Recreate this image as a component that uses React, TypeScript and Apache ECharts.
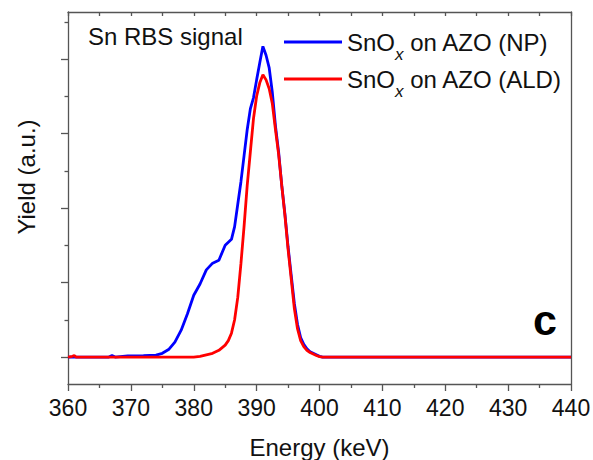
import React, { useEffect, useRef } from "react";
import * as echarts from "echarts";

// Energy axis ticks
const xMin = 360;
const xMax = 440;
const xTickStep = 10;

// Yield axis (arbitrary units; major ticks at integers)
const yMin = -0.362;
const yMax = 4.631;
const yMajorTicks = [0, 1, 2, 3, 4];
const yMinorTicks = [0.5, 1.5, 2.5, 3.5, 4.5];

// SnOx on AZO (NP) — blue
const energyNP = [
  360, 366.5, 367, 367.5, 369.5, 372, 374, 375, 376, 377, 378, 379, 380, 381, 382, 383, 384,
  385, 386, 386.5, 387, 387.5, 388, 388.5, 389, 389.5, 390, 390.5, 391, 391.5, 392, 392.5,
  393, 393.5, 394, 394.5, 395, 395.5, 396, 396.5, 397, 397.5, 398, 398.5, 399, 399.5, 400,
  400.5, 440,
];
const yieldNP = [
  0, 0, 0.02, 0, 0.015, 0.02, 0.025, 0.05, 0.1, 0.2, 0.36, 0.58, 0.83, 0.98, 1.17, 1.26, 1.3,
  1.5, 1.58, 1.75, 2.05, 2.35, 2.7, 3.05, 3.33, 3.48, 3.72, 3.95, 4.17, 4.05, 3.88, 3.55,
  3.1, 2.75, 2.3, 1.92, 1.48, 1.1, 0.72, 0.44, 0.26, 0.17, 0.11, 0.07, 0.05, 0.03, 0.01,
  0, 0,
];

// SnOx on AZO (ALD) — red
const energyALD = [
  360, 360.7, 361, 361.3, 380, 381, 382, 383, 384, 385, 385.5, 386, 386.5, 387, 387.5, 388,
  388.5, 389, 389.5, 390, 390.5, 391, 391.5, 392, 392.5, 393, 393.5, 394, 394.5, 395, 395.5,
  396, 396.5, 397, 397.5, 398, 398.5, 399, 399.5, 400, 400.5, 440,
];
const yieldALD = [
  0, 0.01, 0.02, 0, 0, 0.01, 0.03, 0.05, 0.09, 0.16, 0.22, 0.32, 0.5, 0.8, 1.25, 1.75,
  2.3, 2.75, 3.2, 3.5, 3.68, 3.79, 3.72, 3.6, 3.4, 3.05, 2.72, 2.3, 1.9, 1.45, 1.05,
  0.65, 0.38, 0.22, 0.14, 0.09, 0.06, 0.04, 0.02, 0.005, 0, 0,
];

const seriesNames = ["SnOx on AZO (NP)", "SnOx on AZO (ALD)"];
const seriesColors = ["#0000ff", "#ff0000"];

const axisColor = "#555555";
const textColor = "#111111";
const fontFamily = "'Liberation Sans', Arial, Helvetica, sans-serif";

export default function App() {
  const ref = useRef<HTMLDivElement>(null);

  useEffect(() => {
    if (!ref.current) return;
    const chart = echarts.init(ref.current, undefined, { renderer: "svg" });

    const dataNP = energyNP.map((e, i) => [e, yieldNP[i]]);
    const dataALD = energyALD.map((e, i) => [e, yieldALD[i]]);

    const hiddenY = {
      type: "value" as const,
      min: yMin,
      max: yMax,
      splitLine: { show: false },
      axisLabel: { show: false },
    };

    chart.setOption({
      animation: false,
      backgroundColor: "#ffffff",
      textStyle: { fontFamily },
      grid: {
        left: 68,
        right: 22,
        top: 12,
        bottom: 76,
        containLabel: false,
        outerBoundsMode: "none",
      },
      legend: {
        show: true,
        orient: "vertical",
        left: 284,
        top: 21,
        padding: 0,
        itemWidth: 58,
        itemHeight: 3,
        itemGap: -5,
        icon: "rect",
        selectedMode: false,
        data: seriesNames,
        formatter: (name: string) => {
          const rest = name.replace("SnOx", "");
          return `{n|SnO}{s|x}{n|${rest}}`;
        },
        textStyle: {
          color: textColor,
          fontFamily,
          fontSize: 24,
          rich: {
            n: { fontSize: 24, lineHeight: 27, color: textColor, fontFamily, verticalAlign: "middle" },
            s: {
              fontSize: 17,
              lineHeight: 17,
              fontStyle: "italic",
              color: textColor,
              fontFamily,
              padding: [25, 0, 0, 0],
              verticalAlign: "middle",
            },
          },
        },
      },
      xAxis: [
        {
          type: "value",
          position: "bottom",
          min: xMin,
          max: xMax,
          interval: xTickStep,
          name: "Energy (keV)",
          nameLocation: "middle",
          nameGap: 51,
          nameTextStyle: { color: textColor, fontSize: 24, fontFamily },
          axisLine: { show: true, onZero: false, lineStyle: { color: axisColor, width: 1.3 } },
          axisTick: { show: true, inside: false, length: 7, lineStyle: { color: axisColor, width: 1.3 } },
          minorTick: { show: true, splitNumber: 2, length: 4, lineStyle: { color: axisColor, width: 1.3 } },
          axisLabel: { show: true, color: textColor, fontSize: 23, margin: 12, fontFamily },
          splitLine: { show: false },
          minorSplitLine: { show: false },
        },
        {
          type: "value",
          position: "top",
          min: xMin,
          max: xMax,
          interval: xTickStep / 2,
          axisLine: { show: true, onZero: false, lineStyle: { color: axisColor, width: 1.3 } },
          axisTick: { show: true, inside: true, length: 4, lineStyle: { color: axisColor, width: 1.3 } },
          axisLabel: { show: false },
          splitLine: { show: false },
        },
      ],
      yAxis: [
        {
          ...hiddenY,
          position: "left",
          axisLine: { show: true, onZero: false, lineStyle: { color: axisColor, width: 1.3 } },
          axisTick: {
            show: true,
            inside: false,
            length: 7,
            customValues: yMajorTicks,
            lineStyle: { color: axisColor, width: 1.3 },
          },
        },
        {
          ...hiddenY,
          position: "left",
          axisLine: { show: false },
          axisTick: {
            show: true,
            inside: false,
            length: 3.5,
            customValues: yMinorTicks,
            lineStyle: { color: axisColor, width: 1.3 },
          },
        },
        {
          ...hiddenY,
          position: "right",
          axisLine: { show: true, onZero: false, lineStyle: { color: axisColor, width: 1.3 } },
          axisTick: { show: false },
        },
      ],
      series: [
        {
          name: seriesNames[0],
          type: "line",
          xAxisIndex: 0,
          yAxisIndex: 0,
          data: dataNP,
          showSymbol: false,
          symbol: "none",
          color: seriesColors[0],
          lineStyle: { color: seriesColors[0], width: 2.8 },
          z: 2,
        },
        {
          name: seriesNames[1],
          type: "line",
          xAxisIndex: 0,
          yAxisIndex: 0,
          data: dataALD,
          showSymbol: false,
          symbol: "none",
          color: seriesColors[1],
          lineStyle: { color: seriesColors[1], width: 2.8 },
          z: 3,
        },
      ],
      graphic: [
        {
          type: "text",
          left: 88,
          top: 24,
          style: { text: "Sn RBS signal", fill: textColor, font: `24px ${fontFamily}` },
        },
        {
          type: "text",
          x: 26,
          y: 177,
          rotation: Math.PI / 2,
          style: {
            text: "Yield (a.u.)",
            fill: textColor,
            font: `24px ${fontFamily}`,
            align: "center",
            verticalAlign: "middle",
          },
        },
        {
          type: "text",
          x: 545,
          y: 320,
          style: {
            text: "c",
            fill: "#000000",
            font: `bold 43px ${fontFamily}`,
            align: "center",
            verticalAlign: "middle",
          },
        },
      ],
    });

    return () => chart.dispose();
  }, []);

  return <div ref={ref} style={{ width: 593, height: 460, position: "absolute", left: 0, top: 0 }} />;
}
